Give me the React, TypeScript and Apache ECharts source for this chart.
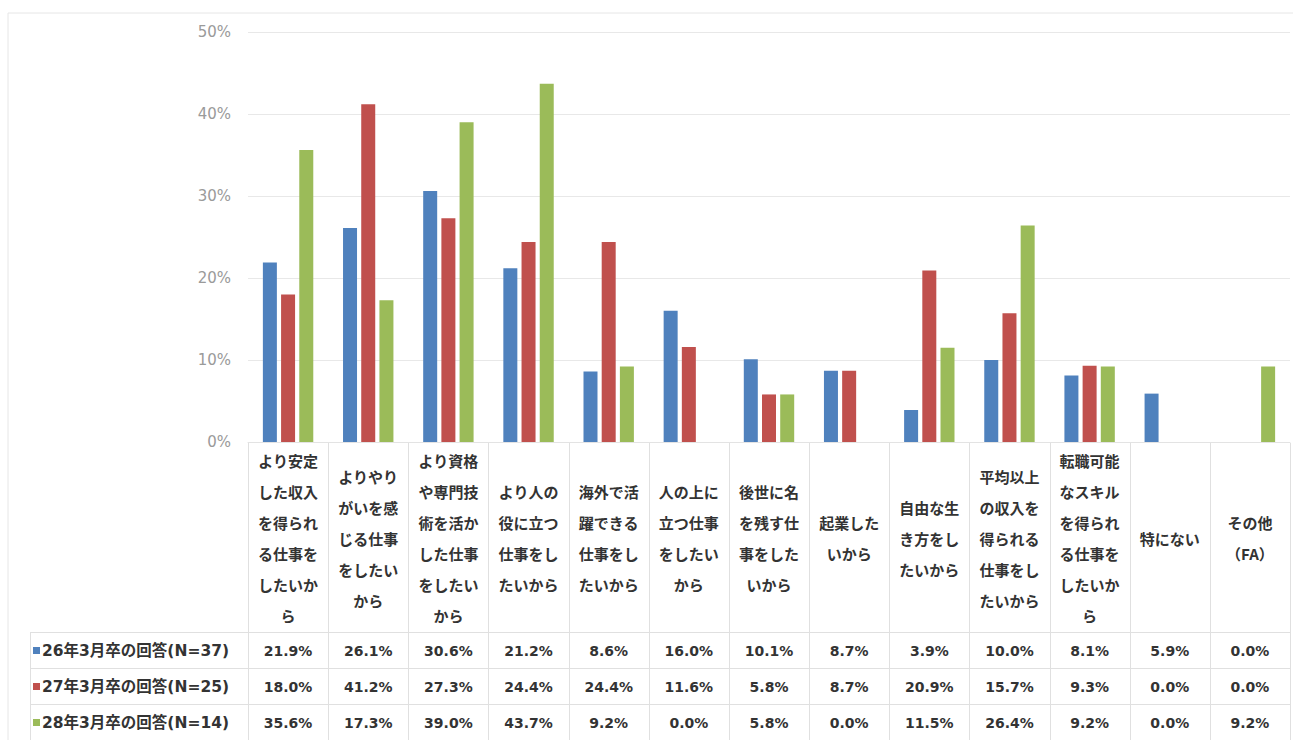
import React, { useEffect, useRef } from "react";
import * as echarts from "echarts";

const categories = [
  "より安定\nした収入\nを得られ\nる仕事を\nしたいか\nら",
  "よりやり\nがいを感\nじる仕事\nをしたい\nから",
  "より資格\nや専門技\n術を活か\nした仕事\nをしたい\nから",
  "より人の\n役に立つ\n仕事をし\nたいから",
  "海外で活\n躍できる\n仕事をし\nたいから",
  "人の上に\n立つ仕事\nをしたい\nから",
  "後世に名\nを残す仕\n事をした\nいから",
  "起業した\nいから",
  "自由な生\nき方をし\nたいから",
  "平均以上\nの収入を\n得られる\n仕事をし\nたいから",
  "転職可能\nなスキル\nを得られ\nる仕事を\nしたいか\nら",
  "特にない",
  "その他\n（FA）",
];

const seriesNames = [
  "26年3月卒の回答(N=37)",
  "27年3月卒の回答(N=25)",
  "28年3月卒の回答(N=14)",
];

const values26 = [21.9, 26.1, 30.6, 21.2, 8.6, 16.0, 10.1, 8.7, 3.9, 10.0, 8.1, 5.9, 0.0];
const values27 = [18.0, 41.2, 27.3, 24.4, 24.4, 11.6, 5.8, 8.7, 20.9, 15.7, 9.3, 0.0, 0.0];
const values28 = [35.6, 17.3, 39.0, 43.7, 9.2, 0.0, 5.8, 0.0, 11.5, 26.4, 9.2, 0.0, 9.2];

const colors = ["#4F81BD", "#C0504D", "#9BBB59"];

const yMin = 0;
const yMax = 50;
const yInterval = 10;

export default function App() {
  const ref = useRef<HTMLDivElement>(null);

  useEffect(() => {
    if (!ref.current) return;
    const chart = echarts.init(ref.current, undefined, { renderer: "svg" });
    const allValues = [values26, values27, values28];
    const gridLeft = 248;
    const gridRight = 3;
    const gridTop = 32;
    const gridBottom = 298;
    const W = 1293;
    const H = 740;
    const axisY = H - gridBottom;

    chart.setOption({
      animation: false,
      backgroundColor: "#ffffff",
      grid: { left: gridLeft, right: gridRight, top: gridTop, bottom: gridBottom, containLabel: false },
      xAxis: {
        type: "category",
        data: categories,
        axisLine: { show: true, lineStyle: { color: "#e3e3e3" } },
        axisTick: { show: false },
        axisLabel: {
          interval: 0,
          margin: 96,
          verticalAlign: "middle",
          align: "center",
          lineHeight: 31,
          fontSize: 15,
          fontWeight: "bold",
          color: "#333333",
          fontFamily: '"Noto Sans CJK JP", sans-serif',
        },
      },
      yAxis: {
        type: "value",
        min: yMin,
        max: yMax,
        interval: yInterval,
        axisLine: { show: false },
        axisTick: { show: false },
        splitLine: { lineStyle: { color: "#e8e8e8" } },
        axisLabel: {
          formatter: "{value}%",
          margin: 17,
          fontSize: 15,
          color: "#9a9a9a",
          fontFamily: '"DejaVu Sans", sans-serif',
        },
      },
      series: allValues.map((vals, i) => ({
        name: seriesNames[i],
        type: "bar",
        data: vals,
        barWidth: 14,
        barGap: "30%",
        itemStyle: { color: colors[i] },
      })),
    });

    const bandStart = gridLeft;
    const bandW = (W - gridLeft - gridRight) / categories.length;
    const graphics: any[] = [];
    const lineColor = "#e0e0e0";
    graphics.push({
      type: "rect",
      shape: { x: 8, y: 13, width: W, height: H },
      style: { fill: "none", stroke: "#e6e6e6", lineWidth: 1 },
      silent: true,
    });
    const tableTop = 632;
    const rowH = 36;
    const tableLeft = 30;
    for (let k = 0; k <= categories.length; k++) {
      const x = Math.round(bandStart + k * bandW) + 0.5;
      graphics.push({
        type: "line",
        shape: { x1: x, y1: axisY + 1, x2: x, y2: H },
        style: { stroke: lineColor, lineWidth: 1 },
        silent: true,
      });
    }
    for (let r = 0; r < 3; r++) {
      const y = tableTop + r * rowH + 0.5;
      graphics.push({
        type: "line",
        shape: { x1: tableLeft, y1: y, x2: W - gridRight, y2: y },
        style: { stroke: lineColor, lineWidth: 1 },
        silent: true,
      });
    }
    graphics.push({
      type: "line",
      shape: { x1: tableLeft + 0.5, y1: tableTop, x2: tableLeft + 0.5, y2: H },
      style: { stroke: lineColor, lineWidth: 1 },
      silent: true,
    });

    allValues.forEach((vals, r) => {
      const cy = tableTop + r * rowH + rowH / 2 + 1;
      graphics.push({
        type: "rect",
        shape: { x: 33, y: cy - 4, width: 7, height: 7 },
        style: { fill: colors[r] },
        silent: true,
      });
      graphics.push({
        type: "text",
        x: 42,
        y: cy,
        style: {
          text: seriesNames[r],
          fontSize: 15.5,
          fontWeight: "bold",
          fill: "#333333",
          fontFamily: '"DejaVu Sans", "Noto Sans CJK JP", sans-serif',
          verticalAlign: "middle",
          align: "left",
        },
        silent: true,
      });
      vals.forEach((v, i) => {
        const px = chart.convertToPixel({ xAxisIndex: 0 }, i) as number;
        graphics.push({
          type: "text",
          x: px,
          y: cy,
          style: {
            text: v.toFixed(1) + "%",
            fontSize: 14,
            fontWeight: "bold",
            fill: "#333333",
            fontFamily: '"DejaVu Sans", sans-serif',
            verticalAlign: "middle",
            align: "center",
          },
          silent: true,
        });
      });
    });

    chart.setOption({ graphic: { elements: graphics } });

    return () => {
      chart.dispose();
    };
  }, []);

  return (
    <div
      ref={ref}
      style={{ position: "fixed", left: 0, top: 0, width: 1293, height: 740 }}
    />
  );
}
